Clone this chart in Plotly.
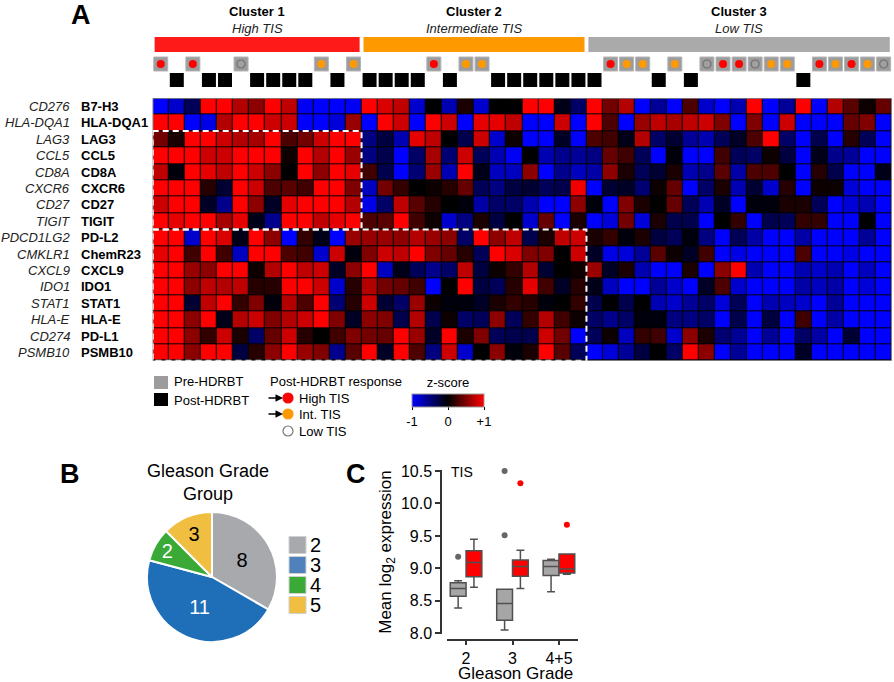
import plotly.graph_objects as go

W, H = 894, 682


def PX(x):
    return x / W


def PY(y):
    return 1 - y / H


FONT = "Liberation Sans, Arial, Helvetica, sans-serif"

# ---------------- data: panel A ----------------
gene_symbols = ["CD276", "HLA-DQA1", "LAG3", "CCL5", "CD8A", "CXCR6", "CD27", "TIGIT",
                "PDCD1LG2", "CMKLR1", "CXCL9", "IDO1", "STAT1", "HLA-E", "CD274", "PSMB10"]
protein_names = ["B7-H3", "HLA-DQA1", "LAG3", "CCL5", "CD8A", "CXCR6", "CD27", "TIGIT",
                 "PD-L2", "ChemR23", "CXCL9", "IDO1", "STAT1", "HLA-E", "PD-L1", "PSMB10"]

zscore_rows = [
    [-1, -0.8, -0.35, 1, 1, 0.7, 0.55, 1, 0.75, -0.95, -1, -1, -0.95, 1, 0.85,
     0.75, -0.8, 0, -0.7, 0.1, -0.8, 0, 0, 1, 1, -0.1, -0.4, 1, 0.45, 0.7,
     -1, -0.6, -1, 0.3, -0.8, -1, -0.7, 1, -1, -0.6, 1, -1, 0.7, 0.35, 0.05, 0.4],
    [1, 1, -1, -0.9, 0.7, 1, 1, 0.8, 0.8, -1, -1, -0.85, 0.6, -1, 1,
     0.8, -1, 1, 0.8, -1, 0.9, 0.9, 0.75, -1, -1, 0.8, -1, 1, 0.3, -1,
     0.6, 0.75, 0.65, 0.75, 0.8, 0.5, -1, 0.5, -1, 0.8, -1, -1, -1, 0.4, 0.5, -1],
    [0.45, 0.1, 1, 1, 0.8, 0.7, 0.65, 1, 0.3, 0.45, 0.8, 1, 1, -0.5, -0.25,
     -0.7, 0.9, 0.75, 0, -0.3, 0.8, -0.8, 0.05, -1, -1, -0.15, -1, 0.3, 0.25, -0.1,
     0.7, -0.4, -0.2, -0.6, -0.7, -0.35, -0.15, 0.3, 1, -0.4, -1, -0.3, -1, 0.15, -0.35, -1],
    [1, 1, 1, 0.8, 0.8, 1, 1, 1, 0.05, 1, 0.7, 1, 0.6, -0.5, -0.3,
     -1, -0.4, 0.65, -0.45, 0.8, -0.35, -0.7, -0.95, 0, -0.7, -0.55, -0.6, -0.5, 0.4, 0.25,
     -0.35, -1, -0.05, -1, -1, 0.25, -0.35, -0.4, 0.05, -0.25, -1, -0.1, -0.55, -0.6, -1, -1],
    [0.75, -0.05, 1, 0.9, 0.75, 1, 0.8, 0.55, 0, 1, 0.55, 1, 0.9, 0.25, -0.3,
     -1, -0.45, 0.6, -0.7, 1, -0.1, -0.75, -0.75, 0.55, -1, -0.55, -0.75, -0.65, 0.55, 0.1,
     -0.35, -0.2, 0.1, -0.7, -0.55, 0.35, -0.65, 0.3, 0.3, 0, -1, 0.15, -0.3, -1, -1, -0.1],
    [1, 1, 1, 0.15, -0.2, 1, 0.8, 0.3, 0.35, 0.25, 1, 1, 0.5, -0.75, 0.45,
     0.2, 0, 0.05, 0.15, 0.4, -0.35, -0.5, -0.25, -0.2, -0.35, -0.3, 0.95, -1, -0.2, -0.15,
     -0.45, 0.05, 0.4, -1, -0.4, 0.1, -0.7, -0.2, -0.8, 0.15, -1, 0.05, 0.05, -0.85, -1, -1],
    [0.8, 1, 1, -0.15, -0.55, 1, 0.55, -0.15, 0.9, 1, 1, 1, 0.7, -0.9, -0.4,
     0.75, 0.35, 0.15, 0, -0.05, -0.65, -0.4, -0.4, -0.7, -1, -1, 0.55, -0.05, -1, 0.5,
     0.1, 0, 0.4, -0.35, -0.7, -0.15, -1, -0.05, -0.05, 0.1, 0.1, -0.35, -1, -0.85, -0.7, -1],
    [1, 0.9, 1, 1, 0.65, 0.9, -0.1, -0.55, 1, 1, 0.75, 0.9, 1, 0.3, 0.35,
     1, 0.25, 0.05, -0.8, -0.5, 0.1, -0.25, 0, -0.8, 0.4, -1, 0.1, -1, -0.85, 0.45,
     -0.85, 0.1, -0.3, -0.3, -1, 0, 0.2, -1, -0.3, -0.35, 0.2, 0.2, -1, -1, 0, -1],
    [1, 1, -0.8, 1, 0.85, -0.1, 1, 0.55, -1, 0.2, -0.1, -1, 0.6, 0.6, 0.6,
     0.55, 0.7, 0.6, 0.55, -0.4, 1, 0.55, 0.75, -0.3, 0.1, 0.75, 0.8, 0.1, 0.2, -0.05,
     0.1, -0.25, -0.35, -0.05, -0.5, -1, -0.35, -0.65, -1, -1, -0.65, -1, -1, -1, -0.6, -1],
    [0.9, 1, 0.25, 1, 0.25, -0.75, 1, 1, 0.3, 0.25, -0.8, 0.8, -0.05, 0.5, 0.8,
     0.75, 1, 0.5, 0.4, 0.15, -0.35, 1, 0.85, 0.5, 0.5, 0, 0.8, -0.15, -0.9, -0.85,
     -0.6, 0.35, 0.05, -0.15, 0.25, -1, -0.9, -1, -1, -1, 0.3, -1, -1, -0.9, -1, -1],
    [1, 1, 0.6, 0.55, 1, 1, 0.05, 0.7, 1, 0.75, 0.8, -0.15, 0.55, 1, -0.75,
     -0.1, -0.35, -0.55, -0.4, 0.75, -0.25, 0.05, 0.2, 0.7, -0.2, 0, 0.05, 0.6, -0.15, 0.1,
     -0.7, -1, -1, 0.1, -1, 0.55, 1, -0.7, -1, -1, -0.7, -0.8, -0.7, -1, -0.75, -1],
    [1, 1, 0.55, 0.75, 0.7, 0.75, 0.15, 0.15, 1, 1, 0.8, -0.8, 0.15, 0.7, 0.45,
     0.4, 0.25, -1, 0, 1, -0.25, -0.35, 0.15, 0.9, 0.25, -0.15, 0.15, -0.1, -0.75, -1,
     -1, -0.6, -0.8, -1, -0.15, 0.3, -0.8, -1, -1, -1, -0.65, -0.75, -0.65, -1, -0.85, -1],
    [1, 1, -0.2, 0.75, 1, 0.2, 0.5, -0.05, 0.7, 0.3, 1, -0.45, 0.15, 0.8, -0.2,
     -0.4, 0.6, 0.05, -0.05, -0.05, -0.15, 0.1, 0.2, 0.15, -0.05, 0, 0.2, -0.3, 0, -0.3,
     0, -0.7, -0.8, -0.6, -0.4, -0.85, -0.35, -1, -0.7, -0.75, -0.8, -1, -0.6, -1, -1, -1],
    [1, 1, 0.55, 1, -0.1, 0.7, 0.8, 0.5, 0.7, 0.8, 1, 0.5, -0.15, 0.55, 0.5,
     -0.3, 0.7, -0.3, 0.05, -0.4, -0.35, 0.55, -0.35, 0.2, 0.7, 0.25, 0.05, -0.4, -0.55, -0.4,
     -0.05, -0.05, -0.5, -0.5, -0.4, -1, -0.3, -1, -0.25, -1, 0.25, -1, -0.65, -1, -1, -1],
    [1, 1, 0.55, 0.2, 0.8, 0.1, -0.4, 0.4, 0.8, 0.15, 0, 0.25, 0.5, 0.45, 0.4,
     1, 0.6, -0.15, 1, 0.1, 0.5, -0.35, -0.3, -0.3, 0.8, 0.45, -1, -0.35, 0.05, -0.75,
     0.2, 0.25, -0.8, 0.55, 0.1, -0.45, -0.6, -1, -0.6, -1, -0.4, -0.65, -1, -0.2, -1, -1],
    [1, 1, 0.55, 1, 1, -0.25, 0.15, 0.55, 1, 0.6, 0.5, -0.55, 0.35, 1, -0.15,
     1, 0.3, -0.5, 0.8, -0.8, 0, 0.55, -0.05, 0.1, 1, 0.35, -0.35, -1, -0.85, -0.6,
     -0.25, 0, -0.4, 1, 0.55, -1, -0.6, -1, -1, -1, -0.15, -1, -1, -1, -1, -1],
]

cluster_names = ["Cluster 1", "Cluster 2", "Cluster 3"]
cluster_subtitles = ["High TIS", "Intermediate TIS", "Low TIS"]
cluster_sizes = [13, 14, 19]
cluster_colors = ["#FF1A1A", "#FF9900", "#AAAAAA"]

sample_timepoint = [
    "Pre", "Post", "Pre", "Post", "Post", "Pre", "Post", "Post", "Post", "Post", "Pre", "Post", "Pre",
    "Post", "Post", "Post", "Post", "Pre", "Post", "Pre", "Pre", "Post", "Post", "Post", "Post", "Post", "Post",
    "Post", "Pre", "Pre", "Pre", "Post", "Pre", "Post", "Pre", "Pre", "Pre", "Pre", "Pre", "Pre", "Post",
    "Pre", "Pre", "Pre", "Pre", "Pre"]
sample_response = [
    "High", None, "High", None, None, "Low", None, None, None, None, "Int", None, "Int",
    None, None, None, None, "High", None, "Int", "Int", None, None, None, None, None, None,
    None, "High", "Int", "Int", None, "Int", None, "Low", "High", "High", "Low", "Int", "Int", None,
    "High", "Int", "High", "Int", "Low"]
response_colors = {"High": "#FF0000", "Int": "#FF9900", "Low": "#A0A0A0"}

# gene blocks outlined with dashed boxes: (first row, last row, clusters spanned)
dashed_blocks = [(2, 7, 1), (8, 15, 2)]

# ---------------- data: panel B ----------------
pie_labels = ["2", "3", "4", "5"]
pie_values = [8, 11, 2, 3]
pie_colors = ["#A7A9AC", "#1F6FB8", "#3AA935", "#F0BE41"]
pie_legend_colors = ["#A7A9AC", "#4F81BD", "#3AA935", "#F0BE41"]
pie_text_colors = ["black", "white", "white", "black"]

# ---------------- data: panel C ----------------
grade_labels = ["2", "3", "4+5"]
pre_lower = [8.39, 8.05, 8.64]
pre_q1 = [8.57, 8.20, 8.89]
pre_median = [8.69, 8.46, 9.03]
pre_q3 = [8.78, 8.68, 9.12]
pre_upper = [8.81, 8.68, 9.14]
post_lower = [8.71, 8.69, 8.91]
post_q1 = [8.87, 8.88, 8.93]
post_median = [9.09, 9.03, 8.99]
post_q3 = [9.27, 9.13, 9.22]
post_upper = [9.45, 9.28, 9.22]
pre_outlier_grade = [0, 1, 1]
pre_outlier_value = [9.18, 9.51, 10.50]
post_outlier_grade = [1, 2]
post_outlier_value = [10.31, 9.67]

# ======================================================
n_rows = len(zscore_rows)
n_cols = len(zscore_rows[0])
fig = go.Figure()

fig.add_trace(go.Heatmap(
    z=zscore_rows, x=list(range(n_cols)), y=list(range(n_rows)),
    colorscale=[[0, "rgb(0,0,255)"], [0.5, "rgb(0,0,0)"], [1, "rgb(255,0,0)"]],
    zmin=-1, zmax=1, xgap=1, ygap=1, hoverongaps=False,
    xaxis="x", yaxis="y",
    colorbar=dict(
        orientation="h", x=PX(448), xanchor="center", y=PY(379), yanchor="top",
        len=72, lenmode="pixels", thickness=13, xpad=0, ypad=0,
        outlinewidth=1, outlinecolor="#999999",
        tickvals=[-1, 0, 1], ticktext=["-1", "0", "+1"], ticks="outside", ticklen=3,
        tickcolor="#000", tickfont=dict(size=13, family=FONT, color="black"),
        title=dict(text="z-score", side="top", font=dict(size=13, family=FONT, color="black")),
    ),
))

# sample annotation track
pre_idx = [i for i, t in enumerate(sample_timepoint) if t == "Pre"]
post_idx = [i for i, t in enumerate(sample_timepoint) if t == "Post"]
fig.add_trace(go.Scatter(
    x=pre_idx, y=["Pre"] * len(pre_idx), mode="markers", xaxis="x", yaxis="y2",
    marker=dict(symbol="square", size=14, color="#9C9C9C", line=dict(color="#B5B5B5", width=1)),
    showlegend=False, hoverinfo="skip"))
fig.add_trace(go.Scatter(
    x=post_idx, y=["Post"] * len(post_idx), mode="markers", xaxis="x", yaxis="y2",
    marker=dict(symbol="square", size=14, color="black"),
    showlegend=False, hoverinfo="skip"))
for resp in ["High", "Int", "Low"]:
    idx = [i for i, r in enumerate(sample_response) if r == resp]
    fig.add_trace(go.Scatter(
        x=idx, y=["Pre"] * len(idx), mode="markers", xaxis="x", yaxis="y2",
        marker=dict(symbol="circle", size=8, color=response_colors[resp],
                    line=dict(color="#707070" if resp == "Low" else response_colors[resp],
                              width=1.2 if resp == "Low" else 0)),
        showlegend=False, hoverinfo="skip"))

# pie
fig.add_trace(go.Pie(
    labels=pie_labels, values=pie_values, sort=False, direction="clockwise", rotation=0,
    domain=dict(x=[PX(147), PX(277)], y=[PY(642), PY(512)]),
    marker=dict(colors=pie_colors, line=dict(color="white", width=2)),
    textinfo="value", textposition="inside", insidetextorientation="horizontal",
    textfont=dict(size=20, family=FONT, color=pie_text_colors),
    showlegend=False, hoverinfo="label+value"))

# boxes
box_w = 0.34
off = box_w / 2
grade_pos = list(range(len(grade_labels)))
fig.add_trace(go.Box(
    x=[g - off for g in grade_pos], q1=pre_q1, median=pre_median, q3=pre_q3,
    lowerfence=pre_lower, upperfence=pre_upper, width=box_w,
    fillcolor="#A6A6A6", line=dict(color="#505050", width=1.5),
    boxpoints=False, xaxis="x3", yaxis="y3", showlegend=False, name="Pre"))
fig.add_trace(go.Box(
    x=[g + off for g in grade_pos], q1=post_q1, median=post_median, q3=post_q3,
    lowerfence=post_lower, upperfence=post_upper, width=box_w,
    fillcolor="#FF0000", line=dict(color="#505050", width=1.5),
    boxpoints=False, xaxis="x3", yaxis="y3", showlegend=False, name="Post"))
fig.add_trace(go.Scatter(
    x=[g - off for g in pre_outlier_grade], y=pre_outlier_value, mode="markers",
    marker=dict(size=6, color="#666666"), xaxis="x3", yaxis="y3",
    showlegend=False, cliponaxis=False))
fig.add_trace(go.Scatter(
    x=[g + off for g in post_outlier_grade], y=post_outlier_value, mode="markers",
    marker=dict(size=6, color="#FF0000"), xaxis="x3", yaxis="y3",
    showlegend=False, cliponaxis=False))

# ---------------- shapes & annotations ----------------
shapes = []
annotations = []

# black grid background + border of heatmap
shapes.append(dict(type="rect", xref="x", yref="y", x0=-0.5, x1=n_cols - 0.5, y0=-0.5,
                   y1=n_rows - 0.5, fillcolor="black", line=dict(width=0), layer="below"))
shapes.append(dict(type="rect", xref="x", yref="y", x0=-0.5, x1=n_cols - 0.5, y0=-0.5,
                   y1=n_rows - 0.5, line=dict(color="#808080", width=1.5), layer="above"))

# dashed blocks
cum = [0]
for s in cluster_sizes:
    cum.append(cum[-1] + s)
for r0, r1, nclu in dashed_blocks:
    shapes.append(dict(type="rect", xref="x", yref="y", x0=-0.5, x1=cum[nclu] - 0.5,
                       y0=r0 - 0.5, y1=r1 + 0.5,
                       line=dict(color="white", width=2, dash="6px,4px"), layer="above"))

# cluster bars and labels
for k in range(len(cluster_sizes)):
    a, b = cum[k], cum[k + 1]
    shapes.append(dict(type="rect", xref="x", yref="paper", x0=a - 0.5 + 0.12, x1=b - 0.5 - 0.12,
                       y0=PY(52), y1=PY(37), fillcolor=cluster_colors[k], line=dict(width=0)))
    cx = (a + b - 1) / 2
    annotations.append(dict(xref="x", yref="paper", x=cx, y=PY(12), text="<b>%s</b>" % cluster_names[k],
                            showarrow=False, font=dict(size=13, family=FONT, color="black"),
                            xanchor="center", yanchor="middle"))
    annotations.append(dict(xref="x", yref="paper", x=cx, y=PY(29), text="<i>%s</i>" % cluster_subtitles[k],
                            showarrow=False, font=dict(size=13, family=FONT, color="#222"),
                            xanchor="center", yanchor="middle"))

# row labels
for i in range(n_rows):
    annotations.append(dict(xref="paper", yref="y", x=PX(72), y=i, text="<i>%s</i>" % gene_symbols[i],
                            showarrow=False, xanchor="right", yanchor="middle",
                            font=dict(size=13, family=FONT, color="#222222")))
    annotations.append(dict(xref="paper", yref="y", x=PX(79), y=i, text="<b>%s</b>" % protein_names[i],
                            showarrow=False, xanchor="left", yanchor="middle",
                            font=dict(size=13, family=FONT, color="black")))

# panel letters
for letter, x, y in [("A", 81, 15), ("B", 70, 474), ("C", 356, 474)]:
    annotations.append(dict(xref="paper", yref="paper", x=PX(x), y=PY(y), text="<b>%s</b>" % letter,
                            showarrow=False, xanchor="center", yanchor="middle",
                            font=dict(size=27, family=FONT, color="black")))

# legend for panel A
shapes.append(dict(type="rect", xref="paper", yref="paper", x0=PX(154), x1=PX(168), y0=PY(389), y1=PY(376),
                   fillcolor="#9C9C9C", line=dict(width=0)))
shapes.append(dict(type="rect", xref="paper", yref="paper", x0=PX(154), x1=PX(168), y0=PY(406), y1=PY(393),
                   fillcolor="black", line=dict(width=0)))
legend_texts = [("Pre-HDRBT", 172, 382), ("Post-HDRBT", 172, 400), ("Post-HDRBT response", 268, 382),
                ("High TIS", 297, 398), ("Int. TIS", 297, 414), ("Low TIS", 297, 431)]
for t, x, y in legend_texts:
    annotations.append(dict(xref="paper", yref="paper", x=PX(x), y=PY(y), text=t, showarrow=False,
                            xanchor="left", yanchor="middle", font=dict(size=13, family=FONT, color="black")))
for col, y, fill in [("#FF0000", 398, "#FF0000"), ("#FF9900", 414, "#FF9900"), ("#777777", 431, "white")]:
    shapes.append(dict(type="circle", xref="paper", yref="paper", x0=PX(283), x1=PX(293), y0=PY(y + 5),
                       y1=PY(y - 5), fillcolor=fill, line=dict(color=col, width=1.2)))
for y in [398, 414]:
    annotations.append(dict(xref="paper", yref="paper", x=PX(283), y=PY(y), ax=-16, ay=0, text="",
                            showarrow=True, arrowhead=2, arrowsize=1, arrowwidth=1.5, arrowcolor="black"))

# legend for panel B (pie categories)
for k, lab in enumerate(pie_labels):
    yc = 545 + 20 * k
    shapes.append(dict(type="rect", xref="paper", yref="paper", x0=PX(289), x1=PX(306),
                       y0=PY(yc + 8.5), y1=PY(yc - 8.5), fillcolor=pie_legend_colors[k],
                       line=dict(color="#D0D0D0", width=1)))
    annotations.append(dict(xref="paper", yref="paper", x=PX(308), y=PY(yc), text=lab, showarrow=False,
                            xanchor="left", yanchor="middle", font=dict(size=20, family=FONT, color="black")))

# panel B title
annotations.append(dict(xref="paper", yref="paper", x=PX(208), y=PY(482), text="Gleason Grade<br>Group",
                        showarrow=False, xanchor="center", yanchor="middle",
                        font=dict(size=18, family=FONT, color="black")))
# panel C labels
annotations.append(dict(xref="paper", yref="paper", x=PX(462), y=PY(472), text="TIS", showarrow=False,
                        xanchor="center", yanchor="middle", font=dict(size=14, family=FONT, color="black")))
annotations.append(dict(xref="paper", yref="paper", x=PX(515), y=PY(673), text="Gleason Grade", showarrow=False,
                        xanchor="center", yanchor="middle", font=dict(size=17, family=FONT, color="black")))

fig.update_layout(
    width=W, height=H, margin=dict(l=0, r=0, t=0, b=0, autoexpand=False),
    paper_bgcolor="white", plot_bgcolor="white",
    font=dict(family=FONT, color="black"),
    shapes=shapes, annotations=annotations,
    xaxis=dict(domain=[PX(152.7), PX(891.7)], range=[-0.5, n_cols - 0.5], visible=False, anchor="y"),
    yaxis=dict(domain=[PY(360.7), PY(98.3)], range=[n_rows - 0.5, -0.5], visible=False, anchor="x"),
    yaxis2=dict(domain=[PY(88), PY(56)], type="category", categoryarray=["Post", "Pre"],
                categoryorder="array", range=[-0.5, 1.5], visible=False, anchor="x"),
    xaxis3=dict(domain=[PX(447), PX(578)], range=[-0.41, 2.41], anchor="free", position=PY(640),
                showline=True, linecolor="#333", linewidth=1.5, ticks="outside", ticklen=4,
                tickcolor="#333", tickwidth=1.5, tickvals=grade_pos, ticktext=grade_labels,
                tickfont=dict(size=16, family=FONT, color="black"), showgrid=False, zeroline=False),
    yaxis3=dict(domain=[PY(634), PY(470)], range=[7.989, 10.515], anchor="free", position=PX(441),
                showline=True, linecolor="#333", linewidth=1.5, ticks="outside", ticklen=5,
                tickcolor="#333", tickwidth=1.5, tickvals=[8, 8.5, 9, 9.5, 10, 10.5], tickformat=".1f",
                tickfont=dict(size=16, family=FONT, color="black"), showgrid=False, zeroline=False,
                title=dict(text="Mean log<sub>2</sub> expression", font=dict(size=17, family=FONT, color="black"),
                           standoff=4)),
    showlegend=False,
)

fig.write_html("out.html", config={"displayModeBar": False},
               post_script="document.body.style.margin='0';document.body.style.overflow='hidden';")
